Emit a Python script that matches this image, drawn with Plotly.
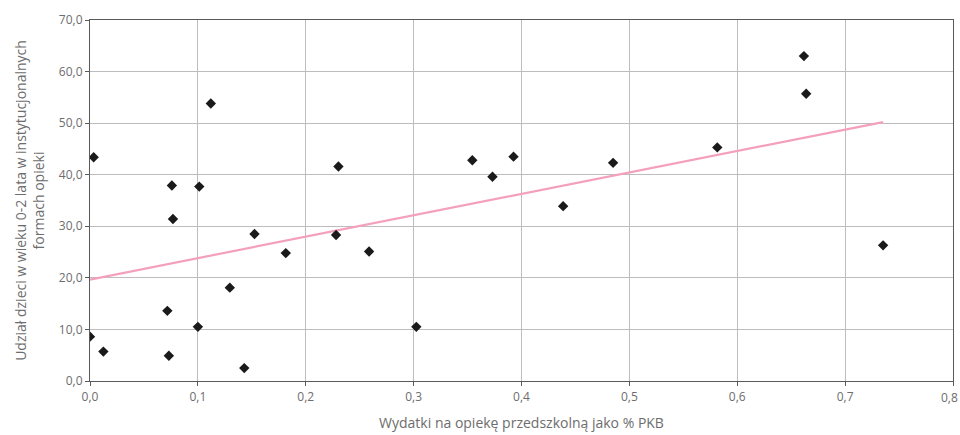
import numpy as np
import plotly.graph_objects as go

spending = [0.000, 0.0034, 0.0124, 0.0717, 0.0731, 0.0759, 0.0769, 0.1000, 0.1013,
            0.1120, 0.1296, 0.1430, 0.1525, 0.1815, 0.2281, 0.2303, 0.2587, 0.3025,
            0.3544, 0.3731, 0.3926, 0.4386, 0.4849, 0.5815, 0.6618, 0.6639, 0.7352]
share = [8.6, 43.4, 5.7, 13.6, 4.9, 37.9, 31.4, 10.5, 37.7,
         53.8, 18.1, 2.5, 28.5, 24.8, 28.3, 41.6, 25.1, 10.5,
         42.8, 39.6, 43.5, 33.9, 42.3, 45.3, 63.0, 55.7, 26.3]
x_ticks = [0.0, 0.1, 0.2, 0.3, 0.4, 0.5, 0.6, 0.7, 0.8]
x_tick_labels = ["0,0", "0,1", "0,2", "0,3", "0,4", "0,5", "0,6", "0,7", "0,8"]

slope, intercept = np.polyfit(spending, share, 1)
trend_x = [0.0, max(spending)]
trend_y = [intercept + slope * v for v in trend_x]

fig = go.Figure()
fig.add_trace(go.Scatter(x=trend_x, y=trend_y, mode="lines",
                         line=dict(color="#f4a0bb", width=2.2), hoverinfo="skip",
                         showlegend=False))
fig.add_trace(go.Scatter(x=spending, y=share, mode="markers",
                         marker=dict(symbol="diamond", size=8, color="#1a1a1a"),
                         showlegend=False))

# last x tick label drawn shifted left so it stays inside the page
shown_labels = x_tick_labels[:-1] + [""]
fig.add_annotation(x=x_ticks[-1], y=0, xref="x", yref="paper", yanchor="top",
                   text=x_tick_labels[-1], showarrow=False, xshift=-4, yshift=-6,
                   font=dict(size=12, color="#6d6d6d"))

font_family = "Open Sans, Noto Sans, sans-serif"
fig.update_layout(
    width=960, height=435,
    margin=dict(l=90, r=7, t=20, b=54),
    paper_bgcolor="white", plot_bgcolor="white",
    separators=", ",
    font=dict(family=font_family, size=12, color="#6d6d6d"),
    xaxis=dict(range=[0, 0.8], tickvals=x_ticks, ticktext=shown_labels,
               showgrid=True, gridcolor="#bdbdbd", gridwidth=1,
               showline=True, linecolor="#5a5a5a", linewidth=1.2, mirror=True,
               ticks="outside", ticklen=4, tickcolor="#5a5a5a",
               zeroline=False,
               title=dict(text="Wydatki na opiekę przedszkolną jako % PKB",
                          font=dict(size=14, color="#6d6d6d"), standoff=14)),
    yaxis=dict(range=[0, 70], dtick=10, tick0=0, tickformat=".1f",
               showgrid=True, gridcolor="#bdbdbd", gridwidth=1,
               showline=True, linecolor="#5a5a5a", linewidth=1.2, mirror=True,
               ticks="outside", ticklen=4, tickcolor="#5a5a5a",
               zeroline=False,
               title=dict(text="Udział dzieci w wieku 0-2 lata w instytucjonalnych<br>formach opieki",
                          font=dict(size=14, color="#6d6d6d"), standoff=10)),
)

fig.write_html("out.html")
